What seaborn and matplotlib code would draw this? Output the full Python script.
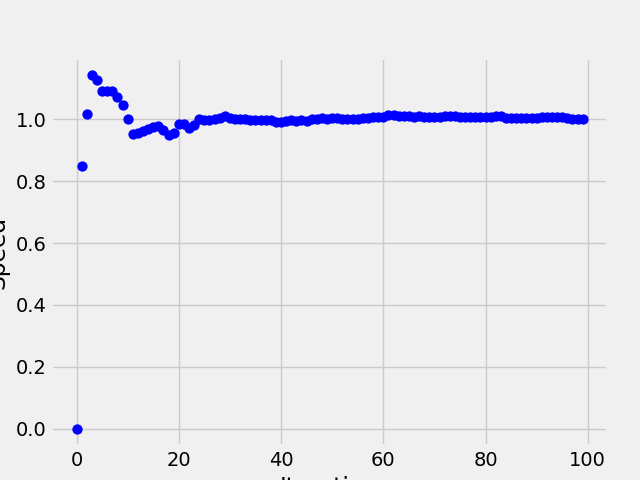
import numpy as np
import pandas as pd
import matplotlib
matplotlib.use("Agg")
import matplotlib.pyplot as plt
import seaborn as sns

# speed per iteration
speed = [
    0.000, 0.848, 1.016, 1.142, 1.126, 1.092, 1.090, 1.090, 1.072, 1.045,
    1.000, 0.953, 0.957, 0.962, 0.970, 0.975, 0.978, 0.965, 0.948, 0.954,
    0.984, 0.984, 0.973, 0.982, 1.000, 0.997, 0.997, 1.002, 1.003, 1.012,
    1.005, 1.002, 1.002, 1.002, 0.997, 0.997, 0.997, 0.997, 0.999, 0.992,
    0.991, 0.993, 0.996, 0.995, 0.997, 0.995, 1.000, 1.000, 1.003, 1.001,
    1.003, 1.003, 1.001, 1.000, 1.000, 1.001, 1.003, 1.005, 1.006, 1.006,
    1.007, 1.013, 1.013, 1.011, 1.010, 1.009, 1.008, 1.009, 1.007, 1.007,
    1.007, 1.007, 1.009, 1.010, 1.010, 1.008, 1.007, 1.007, 1.007, 1.007,
    1.007, 1.007, 1.011, 1.010, 1.005, 1.004, 1.004, 1.004, 1.004, 1.004,
    1.004, 1.006, 1.006, 1.006, 1.006, 1.006, 1.005, 1.002, 1.000, 1.000,
]
iteration = list(range(len(speed)))

df = pd.DataFrame({"Iteration": iteration, "Speed": speed})

plt.style.use("fivethirtyeight")
fig, ax = plt.subplots(figsize=(6.4, 4.8), dpi=100)
sns.scatterplot(data=df, x="Iteration", y="Speed", color="blue",
                s=55, linewidth=0, ax=ax)
ax.set_xlabel("Iteration")
ax.set_ylabel("Speed")
fig.savefig("out.png", dpi=100)
